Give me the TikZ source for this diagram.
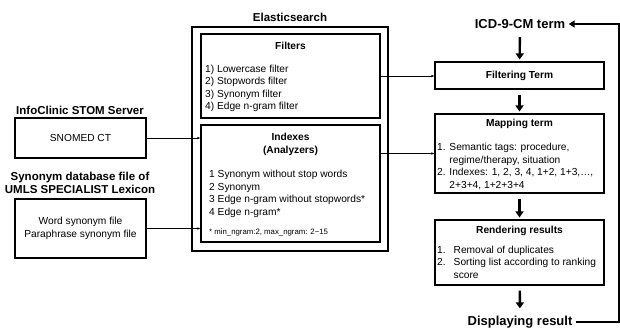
\documentclass[tikz,border=0pt]{standalone}
\usepackage{xcolor}
\usepackage{fontspec}
\setmainfont{Liberation Sans}
\usepackage{tikz}
\usetikzlibrary{arrows.meta}
\newcommand{\bodyfont}{\fontsize{10.2}{12.5}\selectfont}

\begin{document}
\begin{tikzpicture}[x=1pt, y=-1pt,
    box/.style={rectangle, draw, line width=1.1pt, inner sep=0pt},
    thin/.style={-{Latex[length=3pt,width=2.5pt]}, line width=0.8pt},
    thick/.style={-{Triangle[length=6pt,width=8pt]}, line width=2.4pt, shorten <=5pt, shorten >=2pt}]
    \useasboundingbox (0,0) rectangle (620,329);

    \node[box, minimum width=196pt, minimum height=224pt] (es) at (290,139) {};
    \node[font=\fontsize{11.5}{13}\selectfont\bfseries] (estitle) at (290,17) {Elasticsearch};
    \node[box, minimum width=179pt, minimum height=84pt] (filters) at (290.5,76) {};
    \node[font=\bodyfont\bfseries] (filterstitle) at (290.5,46) {Filters};
    \node[font=\bodyfont, align=left, anchor=west, inner sep=0pt] (filterlist) at (205,88.5)
        {1) Lowercase filter\\2) Stopwords filter\\3) Synonym filter\\4) Edge n-gram filter};
    \node[box, minimum width=179pt, minimum height=117pt] (idx) at (290.5,183.5) {};
    \node[font=\bodyfont\bfseries, align=center] (idxtitle) at (290.5,144.5) {Indexes\\(Analyzers)};
    \node[font=\bodyfont, align=left, anchor=west, inner sep=0pt] (idxlist) at (209,194)
        {1 Synonym without stop words\\2 Synonym\\3 Edge n-gram without stopwords*\\4 Edge n-gram*};
    \node[font=\fontsize{7.8}{9}\selectfont, anchor=west, inner sep=0pt] (idxnote) at (209,232)
        {* min\_ngram:2, max\_ngram: 2\textasciitilde15};

    \node[font=\fontsize{11.5}{13}\selectfont\bfseries] (infolabel) at (80,110) {InfoClinic STOM Server};
    \node[box, minimum width=131pt, minimum height=40pt, font=\bodyfont] (snomed) at (80.5,138) {SNOMED CT};
    \node[font=\fontsize{11.5}{13}\selectfont\bfseries, align=center] (synlabel) at (80,182.5)
        {Synonym database file of\\UMLS SPECIALIST Lexicon};
    \node[box, minimum width=131pt, minimum height=59pt, font=\bodyfont, align=center] (syn) at (80.5,228.5)
        {Word synonym file\\Paraphrase synonym file};

    \node[font=\fontsize{13}{15}\selectfont\bfseries] (icd) at (520,24) {ICD-9-CM term};
    \node[box, minimum width=169pt, minimum height=27pt, font=\bodyfont\bfseries] (filt) at (519.5,75.5) {Filtering Term};
    \node[box, minimum width=169pt, minimum height=79pt] (map) at (519.5,153.5) {};
    \node[font=\bodyfont\bfseries] (maptitle) at (519.5,124) {Mapping term};
    \node[font=\bodyfont, anchor=west, inner sep=0pt] (maplist) at (437,167)
        {\begin{tabular}{@{}l@{ }l@{}}
        1. & Semantic tags: procedure,\\
           & regime/therapy, situation\\
        2. & Indexes: 1, 2, 3, 4, 1+2, 1+3,\dots,\\
           & 2+3+4, 1+2+3+4
        \end{tabular}};
    \node[box, minimum width=169pt, minimum height=65pt] (rend) at (519.5,252.5) {};
    \node[font=\bodyfont\bfseries] (rendtitle) at (519.5,231) {Rendering results};
    \node[font=\bodyfont, anchor=west, inner sep=0pt] (rendlist) at (437,263)
        {\begin{tabular}{@{}l@{\hspace{8pt}}l@{}}
        1. & Removal of duplicates\\
        2. & Sorting list according to ranking\\
           & score
        \end{tabular}};
    \node[font=\fontsize{13}{15}\selectfont\bfseries] (disp) at (520,322) {Displaying result};
    \coordinate (back) at (619,24);

    \draw[thin] (snomed.east) -- (snomed.east -| idx.west);
    \draw[thin] (syn.east) -- (syn.east -| idx.west);
    \draw[thin] (filters.east) -- (filters.east -| filt.west);
    \draw[thin] (map.west -| idx.east) -- (map.west);

    \draw[thick] (icd) -- (filt);
    \draw[thick] (filt) -- (map);
    \draw[thick] (map) -- (rend);
    \draw[thick, shorten >=4pt] (rend) -- (disp);
    \draw[-{Triangle[length=6pt,width=7pt]}, line width=1.8pt] (disp.east) -| (back) -- (icd.east);
\end{tikzpicture}
\end{document}
